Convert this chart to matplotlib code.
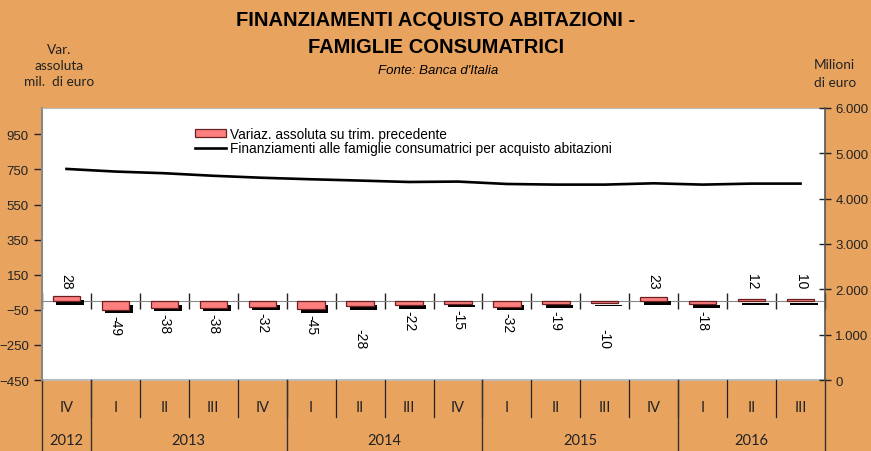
import matplotlib
matplotlib.use('Agg')
from matplotlib import pyplot as plt, patheffects as pe
from matplotlib.ticker import FixedLocator, FuncFormatter
from matplotlib.patches import Patch
from matplotlib.lines import Line2D
import numpy as np

quarters = ['IV', 'I', 'II', 'III', 'IV', 'I', 'II', 'III', 'IV', 'I', 'II', 'III', 'IV', 'I', 'II', 'III']
years = ['2012', '2013', '2014', '2015', '2016']
year_counts = [1, 4, 4, 4, 3]
variazione = [28, -49, -38, -38, -32, -45, -28, -22, -15, -32, -19, -10, 23, -18, 12, 10]
stock = [4656, 4598, 4561, 4505, 4461, 4428, 4399, 4368, 4377, 4324, 4310, 4310, 4339, 4310, 4332, 4332]
left_ticks = [-450, -250, -50, 150, 350, 550, 750, 950]
right_ticks = [0, 1000, 2000, 3000, 4000, 5000, 6000]

ORANGE = '#E8A45F'
SANS = 'Liberation Sans'
CAL = 'Lato'

fig = plt.figure(figsize=(8.71, 4.52), dpi=100, facecolor=ORANGE)
ax = fig.add_axes([42/871, 1-381/452, (825-42)/871, (381-109)/452])
ax.set_facecolor('white')
ax2 = ax.twinx()

x = np.arange(len(quarters))
bars = ax.bar(x, variazione, width=0.56, color='#FF7F7F', edgecolor='#6a2020', linewidth=0.9, zorder=3)
for b in bars:
    b.set_path_effects([pe.SimplePatchShadow(offset=(2.6, -2.6), shadow_rgbFace='black', alpha=1.0), pe.Normal()])

ax.set_xlim(-0.5, len(quarters) - 0.5)
ax.set_ylim(-450, 1100)
ax.yaxis.set_major_locator(FixedLocator(left_ticks))
ax.tick_params(axis='y', direction='out', length=6, width=1, colors='#222222', labelsize=9.5)
for lab in ax.get_yticklabels():
    lab.set_fontfamily(SANS)

# zero axis with boundary ticks
ax.spines['bottom'].set_position(('data', 0))
ax.spines['bottom'].set_color('#888888')
ax.set_xticks(np.arange(len(quarters) + 1) - 0.5)
ax.tick_params(axis='x', direction='inout', length=12, width=1, colors='#222222', labelbottom=False)
ax.spines['top'].set_color('#bbbbbb')
ax.spines['left'].set_color('#888888')
ax.spines['left'].set_linewidth(1.5)
ax.spines['right'].set_visible(False)
ax.axhline(-450, color='#bbbbbb', lw=1.5, clip_on=False, zorder=1)

# data labels
nudge = {6: 12, 11: 14}
for i, v in enumerate(variazione):
    if v >= 0:
        ax.annotate(str(v), (i, 70), xytext=(0, 0), textcoords='offset points',
                    rotation=-90, ha='center', va='bottom', fontsize=10, fontfamily=SANS)
    else:
        ax.annotate(str(v), (i, v), xytext=(0, -4 - nudge.get(i, 0)), textcoords='offset points',
                    rotation=-90, ha='center', va='top', fontsize=10, fontfamily=SANS)

# line on right axis
ax2.plot(x, stock, color='black', lw=1.9, zorder=4)
ax2.set_ylim(0, 6000)
ax2.yaxis.set_major_locator(FixedLocator(right_ticks))
ax2.yaxis.set_major_formatter(FuncFormatter(lambda v, p: f'{v:,.0f}'.replace(',', '.')))
ax2.tick_params(axis='y', direction='inout', length=8, width=1, colors='#222222', labelsize=9.5)
for lab in ax2.get_yticklabels():
    lab.set_fontfamily(SANS)
for s in ['top', 'bottom', 'left']:
    ax2.spines[s].set_visible(False)
ax2.spines['right'].set_color('#555555')
ax2.spines['right'].set_linewidth(1.2)

# category area below the plot
tr = ax.get_xaxis_transform()
q_bot = (381 - 418) / 272
y_bot = (381 - 452) / 272
for i, q in enumerate(quarters):
    ax.text(i, (381 - 408) / 272, q, transform=tr, ha='center', va='center',
            fontsize=10.5, fontfamily=CAL, color='#222222', clip_on=False)
for k in range(1, len(quarters)):
    ax.plot([k - 0.5, k - 0.5], [0, q_bot], transform=tr, color='#222222', lw=0.9, clip_on=False)
start = 0
edges = [-0.5]
for yr, n in zip(years, year_counts):
    ax.text(start + (n - 1) / 2, (381 - 441) / 272, yr, transform=tr, ha='center', va='center',
            fontsize=10.5, fontfamily=CAL, color='#222222', clip_on=False)
    start += n
    edges.append(start - 0.5)
for e in edges:
    ax.plot([e, e], [0, y_bot], transform=tr, color='#333333', lw=1.0, clip_on=False)

# legend
handles = [Patch(facecolor='#FF7F7F', edgecolor='#6a2020', linewidth=0.9),
           Line2D([0], [0], color='black', lw=1.9)]
labels = ['Variaz. assoluta su trim. precedente',
          'Finanziamenti alle famiglie consumatrici per acquisto abitazioni']
fig.legend(handles, labels, loc='upper left', bbox_to_anchor=(195/871, 1 - 128/452), frameon=False,
           prop={'family': SANS, 'size': 9.8}, handlelength=2.3, handleheight=0.55, handletextpad=0.3,
           labelspacing=0.0, borderpad=0, borderaxespad=0)

# titles and captions
fig.text(436/871, 1 - 21/452, 'FINANZIAMENTI ACQUISTO ABITAZIONI -', ha='center', va='center',
         fontsize=14.5, fontweight='bold', fontfamily=SANS)
fig.text(436/871, 1 - 48/452, 'FAMIGLIE CONSUMATRICI', ha='center', va='center',
         fontsize=14.5, fontweight='bold', fontfamily=SANS)
fig.text(438/871, 1 - 71/452, "Fonte: Banca d'Italia", ha='center', va='center',
         fontsize=9.5, fontstyle='italic', fontfamily=SANS)
fig.text(59/871, 1 - 66/452, 'Var.\nassoluta\nmil.  di euro', ha='center', va='center',
         fontsize=9.8, fontfamily=CAL, linespacing=1.45, color='#222222')
fig.text(814/871, 1 - 74/452, 'Milioni\ndi euro', ha='left', va='center',
         fontsize=9.8, fontfamily=CAL, linespacing=1.6, color='#222222')

fig.savefig('out.png', dpi=100, facecolor=ORANGE)
